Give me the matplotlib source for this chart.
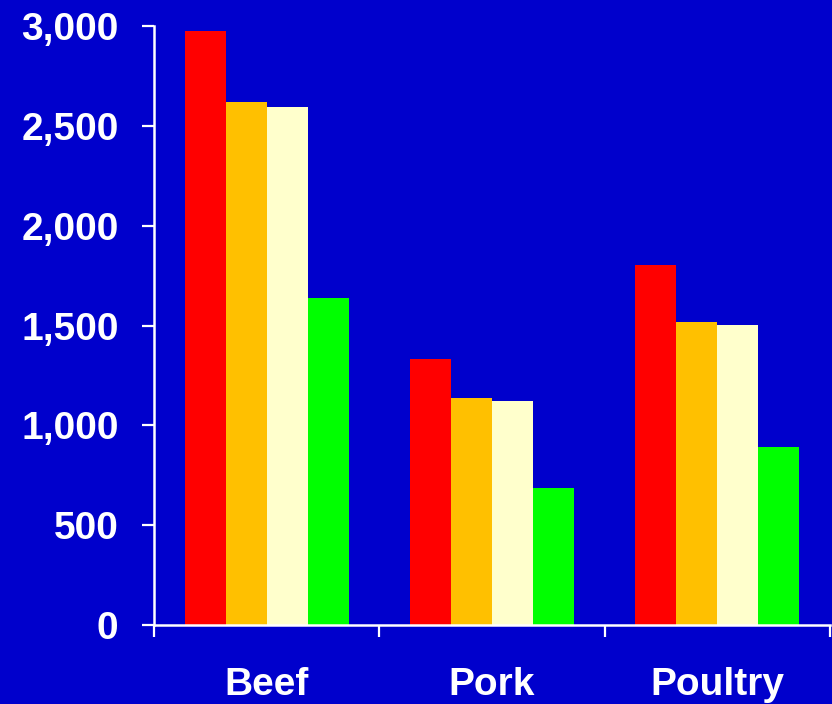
import numpy as np
import matplotlib
matplotlib.use('Agg')
import matplotlib.pyplot as plt
from matplotlib.ticker import FuncFormatter, FixedLocator

categories = ['Beef', 'Pork', 'Poultry']
series_red = [2975, 1330, 1805]
series_orange = [2620, 1135, 1520]
series_yellow = [2595, 1120, 1505]
series_green = [1640, 685, 890]
yticks = [0, 500, 1000, 1500, 2000, 2500, 3000]

BG = '#0000CC'
colors = ['#FF0000', '#FFC000', '#FFFFCC', '#00FF00']

plt.rcParams['font.family'] = ['Liberation Sans', 'DejaVu Sans']

fig = plt.figure(figsize=(8.32, 7.04), dpi=100, facecolor=BG)
ax = fig.add_axes([154 / 832, 79 / 704, 676 / 832, 599 / 704])
ax.set_facecolor(BG)

x = np.arange(len(categories))
w = 0.182
for i, (vals, c) in enumerate(zip([series_red, series_orange, series_yellow, series_green], colors)):
    ax.bar(x + (i - 1.5) * w, vals, width=w, color=c, linewidth=0)

ax.set_xlim(-0.5, 2.5)
ax.set_ylim(0, 3000)
ax.set_yticks(yticks)
ax.yaxis.set_major_formatter(FuncFormatter(lambda v, p: f'{int(v):,}'))
ax.set_xticks(x)
ax.set_xticklabels(categories)
ax.xaxis.set_minor_locator(FixedLocator([-0.5, 0.5, 1.5, 2.5]))

for s in ['top', 'right']:
    ax.spines[s].set_visible(False)
for s in ['left', 'bottom']:
    ax.spines[s].set_color('white')
    ax.spines[s].set_linewidth(1.8)

ax.tick_params(axis='y', colors='white', length=8.5, width=1.6, pad=17,
               labelsize=28)
ax.tick_params(axis='x', which='major', length=0, pad=30, colors='white',
               labelsize=28)
ax.tick_params(axis='x', which='minor', length=8.5, width=1.6, color='white')
for lab in ax.get_xticklabels() + ax.get_yticklabels():
    lab.set_fontweight('bold')

fig.savefig('out.png', dpi=100, facecolor=BG)
